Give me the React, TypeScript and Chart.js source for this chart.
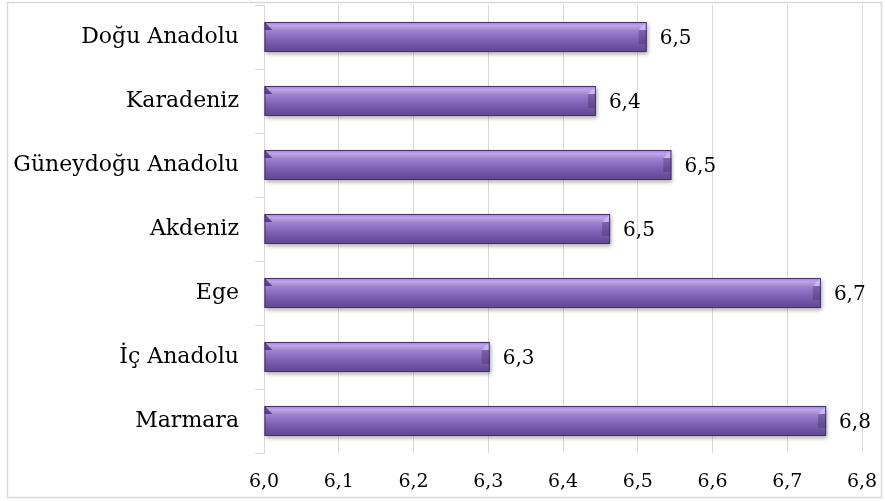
import React, { useEffect, useRef } from "react";
import { Chart, registerables } from "chart.js";

Chart.register(...registerables);

const regions = ["Doğu Anadolu", "Karadeniz", "Güneydoğu Anadolu", "Akdeniz", "Ege", "İç Anadolu", "Marmara"];
const scores = [6.512, 6.444, 6.545, 6.463, 6.745, 6.302, 6.752];
const xMin = 6.0;
const xMax = 6.8;
const xStep = 0.1;

const FONT = "'DejaVu Serif', serif";

const fmt = (v: number) => v.toFixed(1).replace(".", ",");

const frame = {
  id: "frame",
  beforeDraw(chart: any) {
    const c = chart.ctx;
    c.save();
    c.fillStyle = "#ffffff";
    c.fillRect(0, 0, chart.width, chart.height);
    c.strokeStyle = "#d9d9d9";
    c.lineWidth = 1.5;
    c.strokeRect(7.5, 2.5, 874, 495);
    c.restore();
  },
};

const bars3d = {
  id: "bars3d",
  afterDatasetsDraw(chart: any) {
    const c = chart.ctx;
    const meta = chart.getDatasetMeta(0);
    meta.data.forEach((el: any, i: number) => {
      const x0 = el.base;
      const x1 = el.x;
      const h = el.height;
      const y0 = el.y - h / 2;
      const y1 = el.y + h / 2;
      c.save();
      c.shadowColor = "rgba(0,0,0,0.35)";
      c.shadowBlur = 4;
      c.shadowOffsetX = 1;
      c.shadowOffsetY = 2;
      const g = c.createLinearGradient(0, y0, 0, y1);
      g.addColorStop(0, "#9d83cf");
      g.addColorStop(0.12, "#bfa5ec");
      g.addColorStop(0.3, "#9c80d0");
      g.addColorStop(0.6, "#7f61b4");
      g.addColorStop(1, "#5f4590");
      c.fillStyle = g;
      c.fillRect(x0, y0, x1 - x0, h);
      c.restore();
      c.save();
      const b = 8;
      c.fillStyle = "rgba(70,45,110,0.8)";
      c.beginPath();
      c.moveTo(x0, y0);
      c.lineTo(x0 + b, y0 + b);
      c.lineTo(x0, y0 + b);
      c.closePath();
      c.fill();
      c.fillStyle = "rgba(215,195,250,0.7)";
      c.beginPath();
      c.moveTo(x1, y0);
      c.lineTo(x1 - b, y0 + b);
      c.lineTo(x1, y0 + b);
      c.closePath();
      c.fill();
      c.fillStyle = "rgba(60,40,95,0.35)";
      c.fillRect(x1 - b, y0 + b, b, h - 2 * b);
      c.strokeStyle = "#45306a";
      c.lineWidth = 1;
      c.strokeRect(x0 + 0.5, y0 + 0.5, x1 - x0 - 1, h - 1);
      c.fillStyle = "#000000";
      c.font = `20px ${FONT}`;
      c.textAlign = "left";
      c.textBaseline = "middle";
      c.fillText(fmt(scores[i]), x1 + 13, el.y + 2);
      c.restore();
    });
  },
};

export default function App() {
  const ref = useRef<HTMLCanvasElement | null>(null);
  useEffect(() => {
    if (!ref.current) return;
    const chart = new Chart(ref.current, {
      type: "bar",
      data: {
        labels: regions,
        datasets: [
          {
            data: scores,
            base: xMin,
            backgroundColor: "rgba(0,0,0,0)",
            borderWidth: 0,
            barThickness: 30,
          } as any,
        ],
      },
      options: {
        indexAxis: "y",
        animation: false,
        responsive: false,
        layout: { padding: { top: 5, right: 23, left: 0, bottom: 0 } },
        plugins: { legend: { display: false }, tooltip: { enabled: false } },
        scales: {
          x: {
            min: xMin,
            max: xMax,
            ticks: {
              stepSize: xStep,
              color: "#000",
              font: { family: FONT, size: 19 },
              padding: 18,
              callback: (v: any) => fmt(Number(v)),
            },
            grid: { color: "#d9d9d9", drawTicks: false },
            border: { display: false },
            afterFit: (s: any) => {
              s.height = 48;
              s.paddingLeft = 0;
              s.paddingRight = 0;
            },
          },
          y: {
            ticks: { color: "#000", font: { family: FONT, size: 22 }, padding: 16 },
            grid: { drawOnChartArea: false, offset: true, tickLength: 9, color: "#d9d9d9" },
            border: { display: true, color: "#d9d9d9" },
            afterFit: (s: any) => {
              s.width = 264;
              s.paddingTop = 0;
              s.paddingBottom = 0;
            },
          },
        },
      },
      plugins: [frame, bars3d],
    });
    return () => chart.destroy();
  }, []);
  return (
    <div style={{ position: "absolute", left: 0, top: 0, width: 885, height: 501 }}>
      <canvas ref={ref} width={885} height={501} />
    </div>
  );
}
